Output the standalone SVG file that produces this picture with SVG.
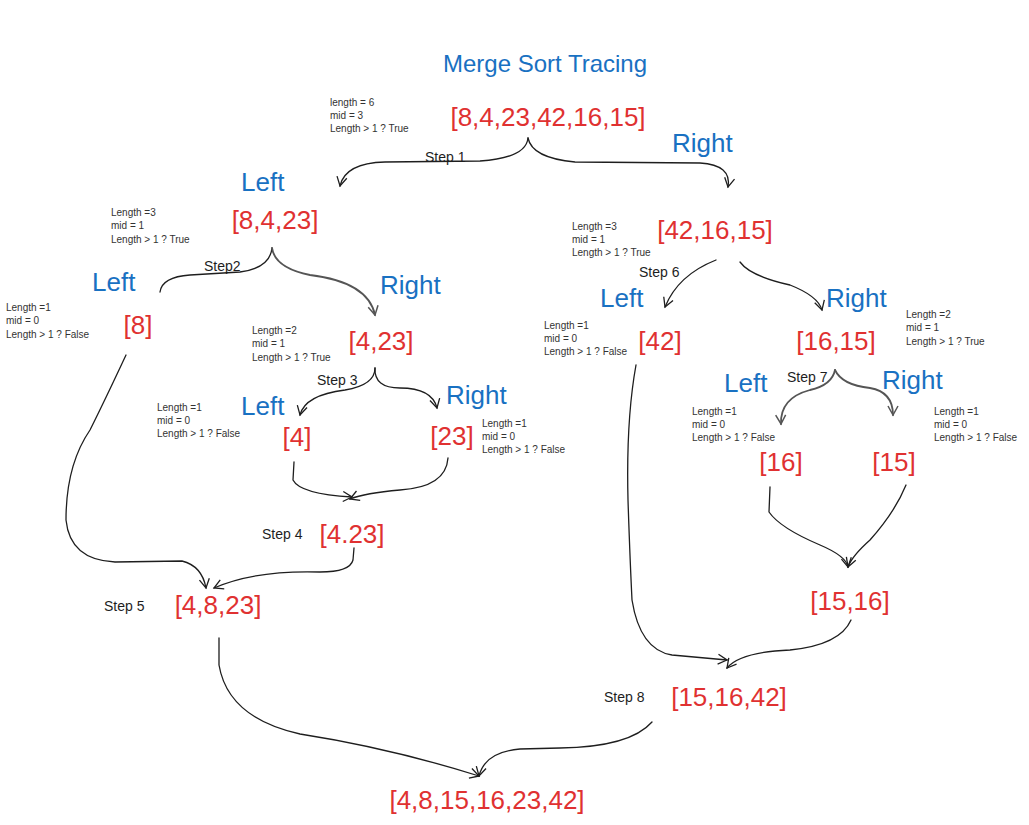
<svg xmlns="http://www.w3.org/2000/svg" width="1029" height="825" viewBox="0 0 1029 825">
<defs>
<marker id="ah" viewBox="0 0 12 12" refX="10" refY="6" markerWidth="12" markerHeight="12" markerUnits="userSpaceOnUse" orient="auto">
<path d="M1,1 L10,6 L1,11" fill="none" stroke="#1e1e1e" stroke-width="1.3"/>
</marker>
<marker id="ahg" viewBox="0 0 12 12" refX="10" refY="6" markerWidth="12" markerHeight="12" markerUnits="userSpaceOnUse" orient="auto">
<path d="M1,1 L10,6 L1,11" fill="none" stroke="#555" stroke-width="1.5"/>
</marker>
</defs>
<style>
text{font-family:"Liberation Sans",Arial,sans-serif;dominant-baseline:central}
.arr{font-size:26px;fill:#e03131}
.lbl{font-size:26px;fill:#1971c2}
.note{font-size:10px;fill:#333}
.step{font-size:14px;fill:#1e1e1e}
.c{fill:none;stroke:#1e1e1e;stroke-width:1.3;stroke-linecap:round}
.g{fill:none;stroke:#555;stroke-width:1.8;stroke-linecap:round}
</style>
<rect width="1029" height="825" fill="#fff"/>
<text id="title" x="545" y="63" text-anchor="middle" style="font-size:24px;fill:#1971c2">Merge Sort Tracing</text>

<g id="connectors">
<path class="c" marker-end="url(#ah)" d="M528,138 Q526,158 480,161 L385,162 Q345,163 340,186"/>
<path class="c" marker-end="url(#ah)" d="M528,138 Q532,158 575,162 L700,163 Q732,165 728,187"/>
<path class="c" d="M272,248 Q270,268 240,272 L190,275 Q162,277 160,292"/>
<path class="g" marker-end="url(#ahg)" d="M272,248 Q275,268 310,275 Q368,282 375,315"/>
<path class="c" marker-end="url(#ah)" d="M375,368 Q375,385 345,390 Q305,395 300,415"/>
<path class="c" marker-end="url(#ah)" d="M375,368 Q374,388 400,388 Q432,388 437,408"/>
<path class="c" marker-end="url(#ah)" d="M294,462 L293,480 Q300,494 352,497"/>
<path class="c" marker-end="url(#ah)" d="M448,458 Q446,487 400,490 Q365,493 350,499"/>
<path class="c" marker-end="url(#ah)" d="M126,355 Q105,400 90,430 Q66,465 66,520 Q70,560 115,562 L182,561 Q202,566 206,588"/>
<path class="c" marker-end="url(#ah)" d="M354,548 L353,560 Q350,572 320,572 Q255,570 214,588"/>
<path class="c" marker-end="url(#ah)" d="M219,638 L219,665 Q228,718 300,734 Q390,748 479,776"/>
<path class="c" marker-end="url(#ah)" d="M652,722 Q630,747 560,748 L520,749 Q485,752 479,776"/>
<path class="c" marker-end="url(#ah)" d="M716,260 Q678,275 665,307"/>
<path class="c" marker-end="url(#ah)" d="M740,262 Q750,276 790,285 Q818,296 822,310"/>
<path class="g" marker-end="url(#ahg)" d="M835,370 Q832,385 810,390 Q780,398 781,424"/>
<path class="g" marker-end="url(#ahg)" d="M835,370 Q842,385 870,388 Q893,392 893,415"/>
<path class="c" marker-end="url(#ah)" d="M770,487 L769,512 Q780,528 820,545 Q846,556 848,567"/>
<path class="c" marker-end="url(#ah)" d="M906,485 Q895,512 870,540 Q852,556 848,567"/>
<path class="c" marker-end="url(#ah)" d="M636,365 Q626,420 628,500 Q630,560 632,600 Q640,650 672,655 L727,660"/>
<path class="c" marker-end="url(#ah)" d="M851,620 Q840,645 790,650 Q740,652 727,668"/>
</g>

<g id="n-root">
<text class="arr" x="548" y="117" text-anchor="middle">[8,4,23,42,16,15]</text>
<text class="note" x="330" y="102">length = 6</text>
<text class="note" x="330" y="115">mid = 3</text>
<text class="note" x="330" y="128">Length &gt; 1 ? True</text>
<text class="step" x="425" y="157">Step 1</text>
<text class="lbl" x="672" y="143">Right</text>
</g>

<g id="n-8-4-23">
<text class="lbl" x="241" y="182">Left</text>
<text class="arr" x="275" y="220" text-anchor="middle">[8,4,23]</text>
<text class="note" x="111" y="212">Length =3</text>
<text class="note" x="111" y="225">mid = 1</text>
<text class="note" x="111" y="239">Length &gt; 1 ? True</text>
<text class="step" x="204" y="266">Step2</text>
</g>

<g id="n-8">
<text class="lbl" x="92" y="282">Left</text>
<text class="arr" x="138" y="325" text-anchor="middle">[8]</text>
<text class="note" x="6" y="307">Length =1</text>
<text class="note" x="6" y="320">mid = 0</text>
<text class="note" x="6" y="334">Length &gt; 1 ? False</text>
</g>

<g id="n-4-23">
<text class="lbl" x="380" y="285">Right</text>
<text class="arr" x="381" y="341" text-anchor="middle">[4,23]</text>
<text class="note" x="252" y="330">Length =2</text>
<text class="note" x="252" y="343">mid = 1</text>
<text class="note" x="252" y="357">Length &gt; 1 ? True</text>
<text class="step" x="317" y="380">Step 3</text>
</g>

<g id="n-4">
<text class="lbl" x="241" y="406">Left</text>
<text class="arr" x="297" y="437" text-anchor="middle">[4]</text>
<text class="note" x="157" y="407">Length =1</text>
<text class="note" x="157" y="420">mid = 0</text>
<text class="note" x="157" y="433">Length &gt; 1 ? False</text>
</g>

<g id="n-23">
<text class="lbl" x="446" y="395">Right</text>
<text class="arr" x="452" y="436" text-anchor="middle">[23]</text>
<text class="note" x="482" y="423">Length =1</text>
<text class="note" x="482" y="436">mid = 0</text>
<text class="note" x="482" y="449">Length &gt; 1 ? False</text>
</g>

<g id="n-step4">
<text class="step" x="262" y="534">Step 4</text>
<text class="arr" x="352" y="534" text-anchor="middle">[4.23]</text>
</g>

<g id="n-step5">
<text class="step" x="104" y="606">Step 5</text>
<text class="arr" x="218" y="605" text-anchor="middle">[4,8,23]</text>
</g>

<g id="n-42-16-15">
<text class="arr" x="715" y="230" text-anchor="middle">[42,16,15]</text>
<text class="note" x="572" y="226">Length =3</text>
<text class="note" x="572" y="239">mid = 1</text>
<text class="note" x="572" y="252">Length &gt; 1 ? True</text>
<text class="step" x="639" y="272">Step 6</text>
</g>

<g id="n-42">
<text class="lbl" x="600" y="298">Left</text>
<text class="arr" x="660" y="341" text-anchor="middle">[42]</text>
<text class="note" x="544" y="325">Length =1</text>
<text class="note" x="544" y="338">mid = 0</text>
<text class="note" x="544" y="351">Length &gt; 1 ? False</text>
</g>

<g id="n-16-15">
<text class="lbl" x="826" y="298">Right</text>
<text class="arr" x="836" y="341" text-anchor="middle">[16,15]</text>
<text class="note" x="906" y="314">Length =2</text>
<text class="note" x="906" y="327">mid = 1</text>
<text class="note" x="906" y="341">Length &gt; 1 ? True</text>
<text class="step" x="787" y="377">Step 7</text>
</g>

<g id="n-16">
<text class="lbl" x="724" y="383">Left</text>
<text class="arr" x="781" y="462" text-anchor="middle">[16]</text>
<text class="note" x="692" y="411">Length =1</text>
<text class="note" x="692" y="424">mid = 0</text>
<text class="note" x="692" y="437">Length &gt; 1 ? False</text>
</g>

<g id="n-15">
<text class="lbl" x="882" y="380">Right</text>
<text class="arr" x="894" y="462" text-anchor="middle">[15]</text>
<text class="note" x="934" y="411">Length =1</text>
<text class="note" x="934" y="424">mid = 0</text>
<text class="note" x="934" y="437">Length &gt; 1 ? False</text>
</g>

<g id="n-15-16">
<text class="arr" x="850" y="601" text-anchor="middle">[15,16]</text>
</g>

<g id="n-step8">
<text class="step" x="604" y="697">Step 8</text>
<text class="arr" x="729" y="697" text-anchor="middle">[15,16,42]</text>
</g>

<g id="n-final">
<text class="arr" x="487" y="800" text-anchor="middle">[4,8,15,16,23,42]</text>
</g>
</svg>
